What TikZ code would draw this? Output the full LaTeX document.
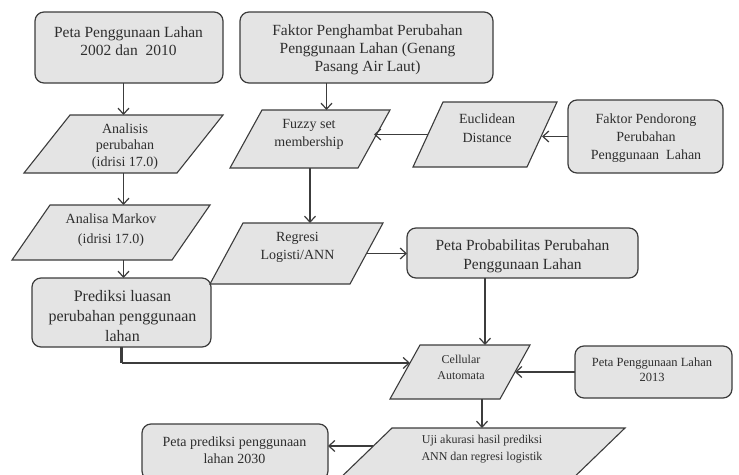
\documentclass[tikz,border=0pt]{standalone}
\usepackage{fontspec}
\setmainfont{Liberation Serif}
\usetikzlibrary{arrows.meta,calc}
\definecolor{boxfill}{HTML}{E4E4E4}
\definecolor{edge}{HTML}{3C3C3C}
\definecolor{ink}{HTML}{2E2E2E}
\tikzset{
  roundbox/.style={draw=edge, fill=boxfill, line width=1.2pt, rounded corners=9pt, inner sep=0pt, outer sep=0pt},
  parafill/.style={draw=edge, fill=boxfill, line width=1.1pt, line join=miter},
  parabox/.style={inner sep=0pt, outer sep=0pt},
  txt/.style={align=center, inner sep=0pt, text=ink},
  arr/.style={draw=edge, line width=1.2pt, -{Straight Barb[length=6pt,width=11pt,line width=1.2pt]}},
}
% name, cx, cy, width, height, slant
\newcommand{\parashape}[6]{%
  \node[parabox, minimum width=#4, minimum height=#5] (#1) at (#2,#3) {};
  \draw[parafill] (#1.south west) -- ([xshift=-#6]#1.south east) -- (#1.north east) -- ([xshift=#6]#1.north west) -- cycle;
}
\begin{document}
\begin{tikzpicture}[x=1pt,y=-1pt]
\useasboundingbox (0,0) rectangle (739,474);
\clip (0,0) rectangle (739,474);
\fill[white] (0,0) rectangle (739,474);

% rounded boxes
\node[roundbox, minimum width=188, minimum height=71] (b1) at (129,47.5) {};
\node[txt, font=\fontsize{15.5}{18}\selectfont] (t1) at (128.5,41) {Peta Penggunaan Lahan\\2002 dan~ 2010};

\node[roundbox, minimum width=253, minimum height=71] (b2) at (366.5,47.5) {};
\node[txt, font=\fontsize{15.5}{18}\selectfont] (t2) at (367.5,50) {Faktor Penghambat Perubahan\\Penggunaan Lahan (Genang\\Pasang Air Laut)};

\node[roundbox, minimum width=155, minimum height=73] (pend) at (645.5,136.5) {};
\node[txt, font=\fontsize{14}{18}\selectfont] (tpend) at (646,138) {Faktor Pendorong\\Perubahan\\Penggunaan~ Lahan};

\node[roundbox, minimum width=179, minimum height=69] (pred) at (121.5,312.5) {};
\node[txt, font=\fontsize{16}{20}\selectfont] (tpred) at (122.5,316) {Prediksi luasan\\perubahan penggunaan\\lahan};

\node[roundbox, minimum width=231, minimum height=50] (prob) at (522.5,253) {};
\node[txt, font=\fontsize{15.5}{19}\selectfont] (tprob) at (522.5,256.5) {Peta Probabilitas Perubahan\\Penggunaan Lahan};

\node[roundbox, minimum width=157, minimum height=52] (b13) at (653.5,372) {};
\node[txt, font=\fontsize{12.5}{15}\selectfont] (t13) at (652,369.5) {Peta Penggunaan Lahan\\2013};

\node[roundbox, minimum width=186, minimum height=56] (ppred) at (235,452) {};
\node[txt, font=\fontsize{14}{17}\selectfont] (tppred) at (234.5,450) {Peta prediksi penggunaan\\lahan 2030};

% parallelograms
\parashape{ana}{123.5}{144}{199}{58}{46}
\node[txt, font=\fontsize{14}{16.5}\selectfont] (tana) at (125,146.5) {Analisis\\perubahan\\(idrisi 17.0)};

\parashape{mar}{111}{232.5}{198}{55}{38}
\node[txt, font=\fontsize{14}{20}\selectfont] (tmar) at (111,230) {Analisa Markov\\(idrisi 17.0)};

\parashape{fuz}{310}{139}{160}{58}{32}
\node[txt, font=\fontsize{14}{18}\selectfont] (tfuz) at (309,134) {Fuzzy set\\membership};

\parashape{euc}{485}{134.5}{144}{65}{30}
\node[txt, font=\fontsize{14}{19}\selectfont] (teuc) at (487,128.5) {Euclidean\\Distance};

\parashape{reg}{296.5}{253.5}{173}{61}{33}
\node[txt, font=\fontsize{14}{18}\selectfont] (treg) at (297.5,247) {Regresi\\Logisti/ANN};

\parashape{cel}{460}{372}{140}{54}{30}
\node[txt, font=\fontsize{12}{16}\selectfont] (tcel) at (461,367) {Cellular\\Automata};

\parashape{uji}{478.5}{457}{293}{58}{60}
\node[txt, font=\fontsize{12}{17}\selectfont] (tuji) at (482,449.5) {Uji akurasi hasil prediksi\\ANN dan regresi logistik};

% helper points on slanted edges
\coordinate (celin) at ($(cel.south west)!0.667!([xshift=30]cel.north west)$);
\coordinate (celR) at ([xshift=-15]cel.east);
\coordinate (ujiL) at ($(uji.south west)!0.69!([xshift=60]uji.north west)$);
\coordinate (eucR) at ([xshift=-15]euc.east);
\coordinate (eucL) at ([xshift=15]euc.west);
\coordinate (fuzR) at ([xshift=-16]fuz.east);
\coordinate (regR) at ([xshift=-16.5]reg.east);

% connectors
\draw[arr] (b1.south -| ana.north) -- (ana.north);
\draw[arr] (ana.south) -- (ana.south |- mar.north);
\draw[arr] (ana.south |- mar.south) -- (ana.south |- pred.north);
\draw[arr] ([xshift=-40]b2.south) -- ([xshift=-40]b2.south |- fuz.north);
\draw[arr] (pend.west) -- (pend.west -| eucR);
\draw[arr] (eucL) -- (eucL -| fuzR);
\draw[arr] (fuz.south) -- (fuz.south |- reg.north);
\draw[arr] (regR) -- (regR -| prob.west);
\draw[arr] ([xshift=-37.5]prob.south) -- ([xshift=-37.5]prob.south |- cel.north);
\draw[arr] (b13.west) -- (b13.west -| celR);
\draw[arr] ([xshift=22]cel.south) -- ([xshift=22]cel.south |- uji.north);
\draw[arr] (ujiL) -- (ujiL -| ppred.east);
\draw[draw=edge, line width=2.6pt] (pred.south) -- (pred.south |- celin);
\draw[arr] (pred.south |- celin) -- (celin);
\end{tikzpicture}
\end{document}
